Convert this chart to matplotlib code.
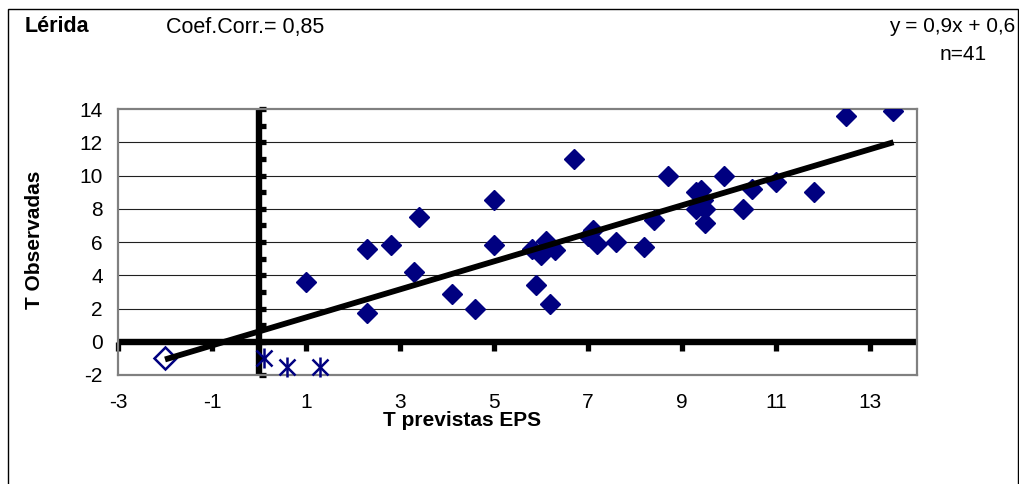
import numpy as np
import matplotlib
matplotlib.use('Agg')
import matplotlib.pyplot as plt
from matplotlib.markers import TICKRIGHT, TICKDOWN
from matplotlib.patches import Rectangle

plt.rcParams['font.family'] = ['Liberation Sans', 'DejaVu Sans']

# datos: T previstas EPS (x) frente a T observadas (y)
x_prev = [1.0, 2.3, 2.8, 2.3, 3.3, 3.4, 4.1, 4.6, 5.0, 5.0,
          5.8, 5.9, 6.0, 6.1, 6.3, 6.2, 6.7, 7.0, 7.1, 7.2,
          7.6, 8.2, 8.4, 8.7, 9.3, 9.4, 9.3, 9.5, 9.45, 9.5,
          9.9, 10.3, 10.5, 11.0, 11.8, 12.5, 13.5]
y_obs = [3.6, 5.6, 5.8, 1.7, 4.2, 7.5, 2.9, 2.0, 8.5, 5.8,
         5.6, 3.4, 5.2, 6.05, 5.5, 2.3, 11.0, 6.35, 6.75, 5.9,
         6.0, 5.7, 7.35, 10.0, 9.0, 9.1, 8.0, 8.0, 8.5, 7.15,
         9.95, 8.0, 9.2, 9.6, 9.0, 13.6, 13.85]

# punto hueco
x_hueco = [-2.0]
y_hueco = [-1.0]

# asteriscos
x_ast = [0.1, 0.6, 1.3]
y_ast = [-1.0, -1.5, -1.5]

# recta de tendencia
trend_slope = 0.843
trend_intercept = 0.62

x_ticks = [-3, -1, 1, 3, 5, 7, 9, 11, 13]
y_ticks = [-2, 0, 2, 4, 6, 8, 10, 12, 14]
y_minor = list(range(-2, 15))

W, H = 1020, 484
fig = plt.figure(figsize=(W / 100, H / 100), dpi=100)
L, R, T, B = 118, 917, 109, 375
ax = fig.add_axes([L / W, 1 - B / H, (R - L) / W, (B - T) / H])

ax.set_xlim(-3, 14)
ax.set_ylim(-2, 14)

for s in ax.spines.values():
    s.set_color('#808080')
    s.set_linewidth(1.6)

ax.set_xticks(x_ticks)
ax.set_yticks(y_ticks)
ax.set_xticklabels([str(v) for v in x_ticks])
ax.set_yticklabels([str(v) for v in y_ticks])
ax.tick_params(axis='both', length=0, labelsize=15)
ax.tick_params(axis='x', pad=13)
ax.tick_params(axis='y', pad=11)

for v in y_ticks[1:-1]:
    if v != 0:
        ax.axhline(v, color='#202020', lw=0.8, zorder=1)

# ejes gruesos en x=0 e y=0
ax.axvline(0, color='black', lw=4.6, zorder=2)
ax.axhline(0, color='black', lw=4.6, zorder=2)
ax.plot(np.zeros(len(y_minor)), y_minor, ls='none', marker=TICKRIGHT,
        ms=4.8, mew=3.8, color='black', zorder=2, clip_on=False)
ax.plot(x_ticks, np.zeros(len(x_ticks)), ls='none', marker=TICKDOWN,
        ms=6.4, mew=3.8, color='black', zorder=2, clip_on=False)

navy = '#000080'
ax.plot(x_prev, y_obs, ls='none', marker='D', ms=10.5, color=navy,
        mec=navy, zorder=3)
ax.plot(x_hueco, y_hueco, ls='none', marker='D', ms=11, mfc='white',
        mec=navy, mew=1.8, zorder=3)
ax.plot(x_ast, y_ast, ls='none', marker='x', ms=12, mew=1.8, color=navy,
        zorder=3, clip_on=False)
ax.plot(x_ast, y_ast, ls='none', marker='|', ms=14, mew=1.8, color=navy,
        zorder=3, clip_on=False)

x_all = x_hueco + x_ast + x_prev
tx = np.array([min(x_all), max(x_all)])
ax.plot(tx, trend_slope * tx + trend_intercept, color='black', lw=4.2,
        solid_capstyle='butt', zorder=4)

def px(x, y):
    return x / W, 1 - y / H

fig.text(*px(25, 27), 'Lérida', fontsize=15.5, fontweight='bold', va='center')
fig.text(*px(166, 27), 'Coef.Corr.= 0,85', fontsize=15.5, va='center')
fig.text(*px(1015, 27), 'y = 0,9x + 0,6', fontsize=15, va='center', ha='right')
fig.text(*px(987, 55), 'n=41', fontsize=15, va='center', ha='right')
fig.text(*px(35, 240), 'T Observadas', fontsize=15, fontweight='bold',
         va='center', ha='center', rotation=90)
fig.text(*px(462, 421), 'T previstas EPS', fontsize=15, fontweight='bold',
         va='center', ha='center')

fig.add_artist(Rectangle((8 / W, -0.02), 1010 / W, 1.02 - 9 / H,
                         transform=fig.transFigure, fill=False,
                         edgecolor='black', lw=1.0))

fig.savefig('out.png', dpi=100)
